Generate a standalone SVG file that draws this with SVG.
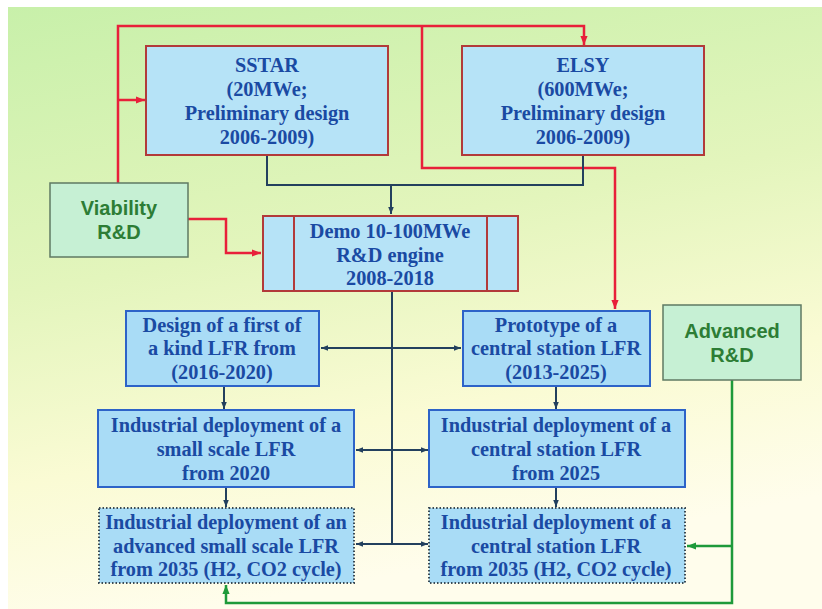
<svg xmlns="http://www.w3.org/2000/svg" width="822" height="609" viewBox="0 0 822 609">
  <defs>
    <linearGradient id="bg" x1="0" y1="0" x2="0.25" y2="1">
      <stop offset="0" stop-color="#c8f0aa"/>
      <stop offset="0.45" stop-color="#e3f5bc"/>
      <stop offset="0.75" stop-color="#fafbd4"/>
      <stop offset="1" stop-color="#fffdec"/>
    </linearGradient>
    <marker id="ar" viewBox="0 0 10 10" refX="10" refY="5" markerWidth="14" markerHeight="9" markerUnits="userSpaceOnUse" orient="auto">
      <path d="M0,1 L10,5 L0,9 Z" fill="#e8203a"/>
    </marker>
    <marker id="an" viewBox="0 0 10 10" refX="10" refY="5" markerWidth="10" markerHeight="7" markerUnits="userSpaceOnUse" orient="auto-start-reverse">
      <path d="M0,1 L10,5 L0,9 Z" fill="#23405e"/>
    </marker>
    <marker id="ag" viewBox="0 0 10 10" refX="10" refY="5" markerWidth="14" markerHeight="9" markerUnits="userSpaceOnUse" orient="auto">
      <path d="M0,1 L10,5 L0,9 Z" fill="#1e9a3a"/>
    </marker>
    <style>
      .proj { fill: #b6e3f7; stroke: #b23a3a; stroke-width: 2; }
      .step { fill: #a9dcf6; stroke: #2d63c8; stroke-width: 2; }
      .future { fill: #a9dcf6; stroke: #3a4a55; stroke-width: 2; stroke-dasharray: 1.5 2; }
      .rd { fill: #c6f0d4; stroke: #5f7a63; stroke-width: 1.5; }
      .t { font-family: "Liberation Serif", "Times New Roman", serif; font-weight: bold; font-size: 20.3px; fill: #1a4aa3; text-anchor: middle; }
      .s { font-family: "Liberation Sans", Arial, sans-serif; font-weight: bold; font-size: 20px; fill: #2d7d35; text-anchor: middle; }
      .red { fill: none; stroke: #e8203a; stroke-width: 2.5; }
      .navy { fill: none; stroke: #23405e; stroke-width: 2; }
      .green { fill: none; stroke: #1e9a3a; stroke-width: 2.5; }
    </style>
  </defs>

  <rect x="0" y="0" width="822" height="609" fill="#ffffff"/>
  <rect x="8" y="7" width="814" height="602" fill="url(#bg)"/>

  <!-- connectors -->
  <g id="connectors">
    <!-- red: viability R&D feeds -->
    <path class="red" d="M118,183 V26 H584 V45" marker-end="url(#ar)"/>
    <path class="red" d="M118,100 H145" marker-end="url(#ar)"/>
    <path class="red" d="M422,26 V168 H615 V309" marker-end="url(#ar)"/>
    <path class="red" d="M188,219 H226 V253 H261" marker-end="url(#ar)"/>
    <!-- navy: preliminary designs into demo -->
    <path class="navy" d="M267,155 V185 H583 V155"/>
    <path class="navy" d="M391,185 V214" marker-end="url(#an)"/>
    <!-- navy: demo trunk and branches -->
    <path class="navy" d="M392,291 V544"/>
    <path class="navy" d="M321,348 H461" marker-start="url(#an)" marker-end="url(#an)"/>
    <path class="navy" d="M356,450 H428" marker-start="url(#an)" marker-end="url(#an)"/>
    <path class="navy" d="M356,544 H428" marker-start="url(#an)" marker-end="url(#an)"/>
    <!-- navy: sequence arrows -->
    <path class="navy" d="M224,386 V409" marker-end="url(#an)"/>
    <path class="navy" d="M226,487 V507" marker-end="url(#an)"/>
    <path class="navy" d="M556,386 V409" marker-end="url(#an)"/>
    <path class="navy" d="M556,487 V507" marker-end="url(#an)"/>
    <!-- green: advanced R&D feeds -->
    <path class="green" d="M732,380 V603 H226 V585" marker-end="url(#ag)"/>
    <path class="green" d="M732,546 H687" marker-end="url(#ag)"/>
  </g>

  <g id="sstar">
    <rect class="proj" x="146" y="46" width="242" height="109"/>
    <text class="t" x="267" y="72">SSTAR</text>
    <text class="t" x="267" y="96">(20MWe;</text>
    <text class="t" x="267" y="120">Preliminary design</text>
    <text class="t" x="267" y="144">2006-2009)</text>
  </g>

  <g id="elsy">
    <rect class="proj" x="462" y="46" width="242" height="109"/>
    <text class="t" x="583" y="72">ELSY</text>
    <text class="t" x="583" y="96">(600MWe;</text>
    <text class="t" x="583" y="120">Preliminary design</text>
    <text class="t" x="583" y="144">2006-2009)</text>
  </g>

  <g id="viability">
    <rect class="rd" x="50" y="183" width="138" height="74"/>
    <text class="s" x="119" y="215">Viability</text>
    <text class="s" x="119" y="239">R&amp;D</text>
  </g>

  <g id="demo">
    <rect class="proj" x="263" y="216" width="255" height="75"/>
    <line x1="294" y1="216" x2="294" y2="291" stroke="#b23a3a" stroke-width="2"/>
    <line x1="487" y1="216" x2="487" y2="291" stroke="#b23a3a" stroke-width="2"/>
    <text class="t" x="390" y="238">Demo 10-100MWe</text>
    <text class="t" x="390" y="262">R&amp;D engine</text>
    <text class="t" x="390" y="285">2008-2018</text>
  </g>

  <g id="advanced-rd">
    <rect class="rd" x="663" y="305" width="138" height="75"/>
    <text class="s" x="732" y="338">Advanced</text>
    <text class="s" x="732" y="362">R&amp;D</text>
  </g>

  <g id="first-of-kind">
    <rect class="step" x="126" y="311" width="193" height="75"/>
    <text class="t" x="222" y="332">Design of a first of</text>
    <text class="t" x="222" y="355">a kind LFR from</text>
    <text class="t" x="222" y="379">(2016-2020)</text>
  </g>

  <g id="prototype">
    <rect class="step" x="463" y="311" width="187" height="75"/>
    <text class="t" x="556" y="332">Prototype of a</text>
    <text class="t" x="556" y="355">central station LFR</text>
    <text class="t" x="556" y="379">(2013-2025)</text>
  </g>

  <g id="small-2020">
    <rect class="step" x="98" y="410" width="256" height="77"/>
    <text class="t" x="226" y="432">Industrial deployment of a</text>
    <text class="t" x="226" y="456">small scale LFR</text>
    <text class="t" x="226" y="480">from 2020</text>
  </g>

  <g id="central-2025">
    <rect class="step" x="429" y="410" width="256" height="77"/>
    <text class="t" x="556" y="432">Industrial deployment of a</text>
    <text class="t" x="556" y="456">central station LFR</text>
    <text class="t" x="556" y="480">from 2025</text>
  </g>

  <g id="small-2035">
    <rect class="future" x="99" y="508" width="255" height="75"/>
    <text class="t" x="226" y="529">Industrial deployment of an</text>
    <text class="t" x="226" y="553">advanced small scale LFR</text>
    <text class="t" x="226" y="576">from 2035 (H2, CO2 cycle)</text>
  </g>

  <g id="central-2035">
    <rect class="future" x="429" y="508" width="256" height="75"/>
    <text class="t" x="556" y="529">Industrial deployment of a</text>
    <text class="t" x="556" y="553">central station LFR</text>
    <text class="t" x="556" y="576">from 2035 (H2, CO2 cycle)</text>
  </g>
</svg>
